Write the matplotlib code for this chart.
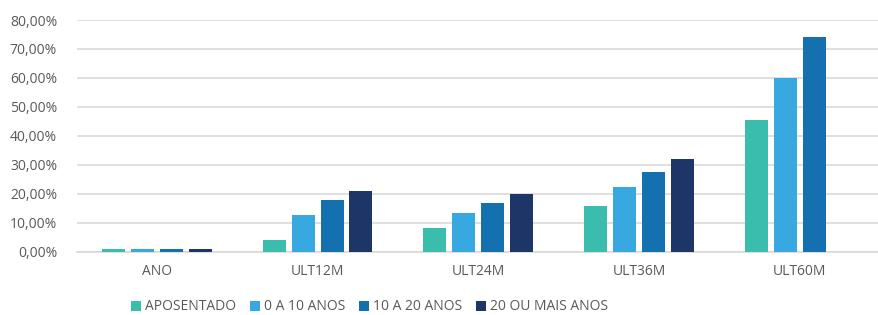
import matplotlib
matplotlib.use("Agg")
import matplotlib.pyplot as plt
import numpy as np
from matplotlib.ticker import FuncFormatter

categories = ["ANO", "ULT12M", "ULT24M", "ULT36M", "ULT60M"]
series_names = ["APOSENTADO", "0 A 10 ANOS", "10 A 20 ANOS", "20 OU MAIS ANOS"]
aposentado = [0.9, 4.0, 8.2, 15.7, 45.4]
anos_0_10 = [0.9, 12.6, 13.2, 22.2, 60.1]
anos_10_20 = [0.9, 17.7, 16.7, 27.4, 74.0]
anos_20_mais = [0.9, 20.8, 19.8, 32.1, np.nan]
colors = ["#3BBDAE", "#38A9E0", "#1570B0", "#1E3567"]

plt.rcParams['font.family'] = ['Open Sans', 'DejaVu Sans']
fig = plt.figure(figsize=(8.79, 3.15), dpi=100)
ax = fig.add_axes([76.5/879, 1-251.5/315, (880-76.5)/879, (251.5-20)/315])

x = np.arange(len(categories))
w = 0.143
step = 0.18
data = [aposentado, anos_0_10, anos_10_20, anos_20_mais]
for i, (vals, name, c) in enumerate(zip(data, series_names, colors)):
    ax.bar(x + (i - 1.5) * step, vals, width=w, color=c, label=name, zorder=3)

ax.set_xlim(-0.5, len(categories) - 0.5)
ax.set_ylim(0, 80)
ax.set_yticks(np.arange(0, 81, 10))
ax.yaxis.set_major_formatter(FuncFormatter(lambda v, p: f"{v:.2f}%".replace(".", ",")))
ax.set_xticks(x)
ax.set_xticklabels(categories)
ax.grid(axis='y', color='#D9D9D9', linewidth=1.2, zorder=0)
for s in ['top', 'right', 'left']:
    ax.spines[s].set_visible(False)
ax.spines['bottom'].set_color('#D9D9D9')
ax.spines['bottom'].set_linewidth(1.2)
ax.tick_params(axis='both', length=0, colors='#595959', labelsize=10)
ax.tick_params(axis='y', pad=14)
ax.tick_params(axis='x', pad=9)

leg = fig.legend(loc='center left', bbox_to_anchor=(119/879, 1-307/315), ncol=4,
                 frameon=False, fontsize=10, handlelength=0.7, handleheight=0.7,
                 handletextpad=0.3, columnspacing=1.0, labelcolor='#595959')

fig.savefig("out.png", dpi=100)
